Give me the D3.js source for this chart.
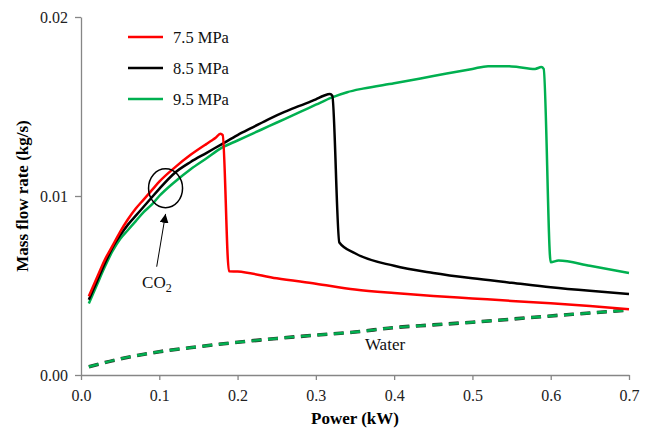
<!DOCTYPE html>
<html>
<head>
<meta charset="utf-8">
<script src="https://cdn.jsdelivr.net/npm/d3@7"></script>
<style>
  body { margin: 0; background: #fff; }
  #chart text { font-family: "Liberation Serif", "Times New Roman", Times, "DejaVu Serif", serif !important; }
</style>
</head>
<body>
<svg id="chart" width="649" height="431"></svg>
<script>
// values, [power kW, mass flow kg/s]
const co2_75 = [[0.01,0.0044],[0.02,0.0054],[0.03,0.0064],[0.04,0.0072],[0.05,0.0080],[0.06,0.0087],[0.07,0.0093],
  [0.08,0.0098],[0.09,0.0103],[0.1,0.0108],[0.12,0.0116],[0.14,0.0123],[0.16,0.0129],[0.167,0.0131],[0.172,0.01325],
  [0.178,0.01348],[0.181,0.0134],[0.189,0.0058],[0.2,0.00578],[0.25,0.0054],[0.3,0.0051],[0.35,0.00478],[0.4,0.00458],
  [0.45,0.00442],[0.5,0.00428],[0.55,0.00414],[0.6,0.00401],[0.65,0.00385],[0.7,0.00367]];

const co2_85 = [[0.01,0.0042],[0.02,0.0052],[0.03,0.0062],[0.04,0.0071],[0.05,0.0078],[0.06,0.0084],[0.07,0.0089],
  [0.08,0.0094],[0.09,0.0099],[0.1,0.0104],[0.12,0.0113],[0.14,0.0119],[0.16,0.0124],[0.18,0.0129],[0.2,0.0134],
  [0.22,0.01385],[0.24,0.0143],[0.26,0.0147],[0.28,0.01505],[0.3,0.0154],[0.31,0.0156],[0.318,0.0157],[0.321,0.0156],
  [0.33,0.0074],[0.35,0.0068],[0.4,0.0061],[0.45,0.0057],[0.5,0.0054],[0.55,0.00515],[0.6,0.0049],[0.65,0.0047],[0.7,0.00453]];

const co2_95 = [[0.01,0.0040],[0.02,0.0050],[0.03,0.0060],[0.04,0.0069],[0.05,0.0076],[0.06,0.0081],[0.07,0.0086],
  [0.08,0.0091],[0.09,0.0095],[0.1,0.0100],[0.12,0.0108],[0.14,0.0115],[0.16,0.0121],[0.18,0.0127],[0.2,0.0131],
  [0.22,0.0135],[0.24,0.0139],[0.26,0.0143],[0.28,0.0147],[0.3,0.0151],[0.32,0.0155],[0.34,0.0158],[0.36,0.0160],
  [0.4,0.0163],[0.45,0.0167],[0.5,0.0171],[0.52,0.01725],[0.55,0.01724],[0.58,0.0171],[0.588,0.0172],[0.591,0.0171],
  [0.6,0.0063],[0.61,0.0064],[0.65,0.0061],[0.7,0.0057]];

// water side, the three pressures lie on top of each other
const water = [[0.01,0.00046],[0.05,0.0009],[0.1,0.0013],[0.15,0.00158],[0.2,0.00183],[0.25,0.00204],[0.3,0.00223],
  [0.35,0.0024],[0.4,0.00265],[0.45,0.0028],[0.5,0.00295],[0.55,0.00312],[0.6,0.0033],[0.65,0.00346],[0.7,0.00363]];

const legendLabels = ["7.5 MPa", "8.5 MPa", "9.5 MPa"];
const seriesColors = ["#ff0000", "#000000", "#00b050"];
const xTicks = [0, 0.1, 0.2, 0.3, 0.4, 0.5, 0.6, 0.7];
const yTicks = [0, 0.01, 0.02];

const serif = "'Liberation Serif', 'Times New Roman', Times, 'DejaVu Serif', serif";
const svg = d3.select("#chart");
const axisGray = "#868686";

const x = d3.scaleLinear().domain([0, 0.7]).range([81, 629]);
const y = d3.scaleLinear().domain([0, 0.02]).range([375, 17]);

// axes
const xAxis = svg.append("g")
  .attr("transform", `translate(0,${y(0)})`)
  .call(d3.axisBottom(x).tickValues(xTicks).tickFormat(d3.format(".1f")).tickSize(5).tickSizeOuter(0));
const yAxis = svg.append("g")
  .attr("transform", `translate(${x(0)},0)`)
  .call(d3.axisLeft(y).tickValues(yTicks).tickFormat(d3.format(".2f")).tickSize(6).tickSizeOuter(0));

[xAxis, yAxis].forEach(ax => {
  ax.attr("font-family", serif);
  ax.select(".domain").attr("stroke", axisGray).attr("stroke-width", 1.3);
  ax.selectAll(".tick line").attr("stroke", axisGray).attr("stroke-width", 1.3);
  ax.selectAll(".tick text").attr("fill", "#222").style("font-size", "16px");
});
xAxis.selectAll(".tick text").attr("dy", "1.1em");
yAxis.selectAll(".tick text").attr("x", -13).attr("dy", "0.35em");

// axis titles
svg.append("text").attr("x", (x(0) + x(0.7)) / 2).attr("y", 424)
  .attr("text-anchor", "middle").attr("font-family", serif).style("font-size", "17px").style("font-weight", "bold")
  .text("Power (kW)");
svg.append("text").attr("transform", `translate(28,${(y(0) + y(0.02)) / 2}) rotate(-90)`)
  .attr("text-anchor", "middle").attr("font-family", serif).style("font-size", "17px").style("font-weight", "bold")
  .text("Mass flow rate (kg/s)");

const line = d3.line().x(d => x(d[0])).y(d => y(d[1])).curve(d3.curveMonotoneX);

// water lines: dark dashes under green dashes
svg.append("path").datum(water).attr("d", line)
  .attr("fill", "none").attr("stroke", "#2b3a2b").attr("stroke-width", 3.6)
  .attr("stroke-dasharray", "10,6.5");
svg.append("path").datum(water).attr("d", line)
  .attr("fill", "none").attr("stroke", "#00b050").attr("stroke-width", 2.4)
  .attr("stroke-dasharray", "10,6.5");

// co2 lines
[co2_95, co2_85, co2_75].forEach((s, i) => {
  svg.append("path").datum(s).attr("d", line)
    .attr("fill", "none").attr("stroke", seriesColors[2 - i]).attr("stroke-width", 2.5)
    .attr("stroke-linejoin", "round");
});

// legend
legendLabels.forEach((lab, i) => {
  const ly = 37 + i * 31;
  svg.append("line").attr("x1", 128).attr("x2", 163).attr("y1", ly).attr("y2", ly)
    .attr("stroke", seriesColors[i]).attr("stroke-width", 2.5);
  svg.append("text").attr("x", 173).attr("y", ly + 5.5).attr("font-family", serif)
    .style("font-size", "16.5px").attr("fill", "#111").text(lab);
});

// CO2 annotation: circle around the curves and an arrow
svg.append("ellipse").attr("cx", x(0.108)).attr("cy", y(0.01043)).attr("rx", 17).attr("ry", 19.5)
  .attr("fill", "none").attr("stroke", "#000").attr("stroke-width", 1.5);

svg.append("defs").append("marker").attr("id", "arrow")
  .attr("viewBox", "0 0 10 10").attr("refX", 10).attr("refY", 5)
  .attr("markerWidth", 9).attr("markerHeight", 9).attr("markerUnits", "userSpaceOnUse")
  .attr("orient", "auto")
  .append("path").attr("d", "M0,0L10,5L0,10Z").attr("fill", "#000");
svg.append("line").attr("x1", x(0.0967)).attr("y1", y(0.00605)).attr("x2", x(0.108)).attr("y2", y(0.0090))
  .attr("stroke", "#000").attr("stroke-width", 1).attr("marker-end", "url(#arrow)");

const co2Text = svg.append("text").attr("x", x(0.097)).attr("y", y(0.00486)).attr("font-family", serif)
  .attr("text-anchor", "middle").style("font-size", "17px").attr("fill", "#111");
co2Text.append("tspan").text("CO");
co2Text.append("tspan").attr("dy", 4).style("font-size", "12px").text("2");

svg.append("text").attr("x", x(0.3627)).attr("y", y(0.0014)).attr("font-family", serif)
  .style("font-size", "17px").attr("fill", "#111").text("Water");
</script>
</body>
</html>
